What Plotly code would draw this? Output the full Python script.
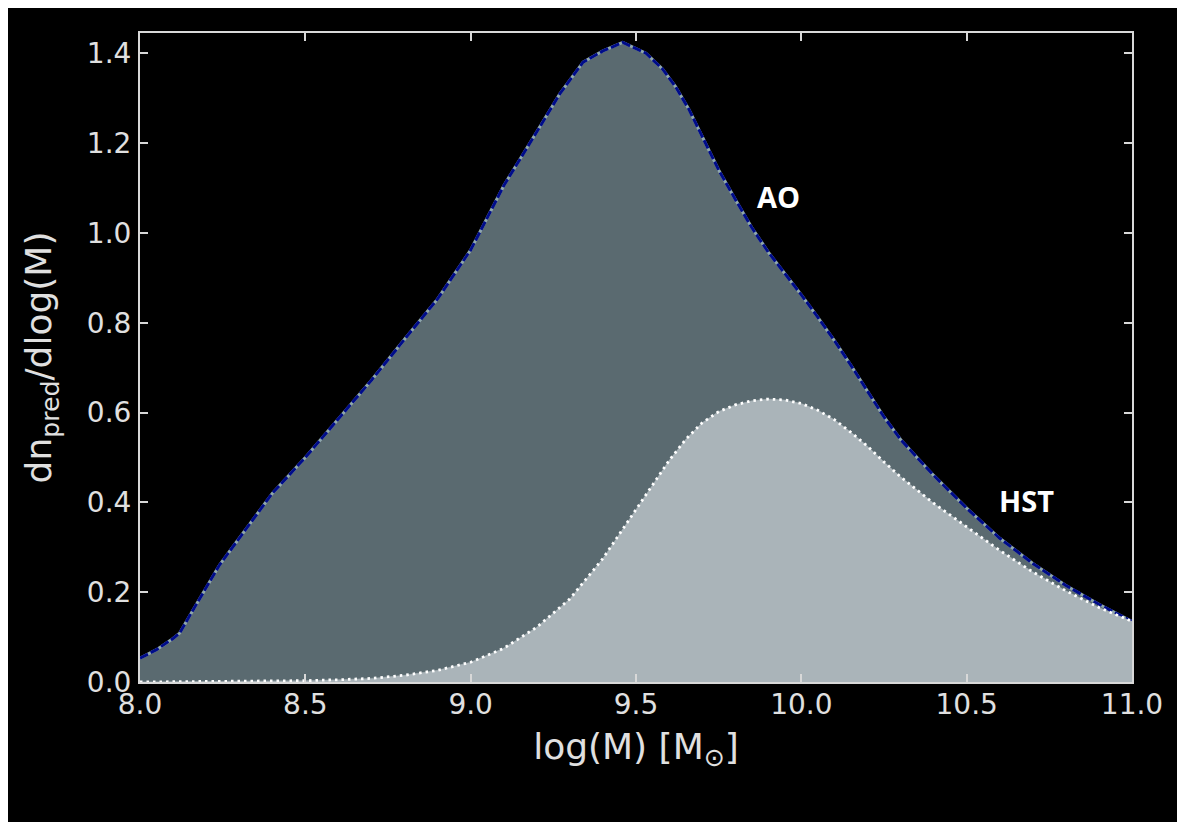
import plotly.graph_objects as go

# AO predicted mass function
ao_x = [8.00, 8.05, 8.10, 8.12, 8.16, 8.20, 8.24, 8.28, 8.33, 8.40, 8.50, 8.60, 8.70,
        8.80, 8.90, 9.00, 9.10, 9.20, 9.27, 9.34, 9.40, 9.46, 9.53, 9.58, 9.62, 9.66,
        9.70, 9.75, 9.80, 9.85, 9.90, 9.95, 10.00, 10.05, 10.10, 10.15, 10.20, 10.25,
        10.30, 10.40, 10.50, 10.60, 10.70, 10.80, 10.90, 11.00]
ao_y = [0.053, 0.072, 0.097, 0.109, 0.160, 0.210, 0.260, 0.300, 0.350, 0.420, 0.500,
        0.587, 0.672, 0.763, 0.853, 0.962, 1.105, 1.225, 1.310, 1.380, 1.405, 1.424,
        1.400, 1.365, 1.325, 1.275, 1.215, 1.140, 1.075, 1.012, 0.957, 0.910, 0.862,
        0.812, 0.760, 0.705, 0.647, 0.590, 0.540, 0.460, 0.387, 0.320, 0.264, 0.215,
        0.173, 0.135]

# HST predicted mass function
hst_x = [8.00, 8.30, 8.50, 8.60, 8.70, 8.80, 8.90, 9.00, 9.10, 9.20, 9.30, 9.40, 9.45,
         9.50, 9.55, 9.60, 9.65, 9.70, 9.75, 9.80, 9.85, 9.90, 9.95, 10.00, 10.05, 10.10,
         10.15, 10.20, 10.25, 10.30, 10.40, 10.50, 10.60, 10.70, 10.80, 10.90, 11.00]
hst_y = [0.000, 0.001, 0.003, 0.005, 0.008, 0.015, 0.026, 0.044, 0.075, 0.122, 0.185,
         0.275, 0.330, 0.385, 0.440, 0.493, 0.540, 0.577, 0.602, 0.617, 0.626, 0.630,
         0.628, 0.620, 0.605, 0.584, 0.556, 0.525, 0.490, 0.457, 0.398, 0.345, 0.293,
         0.245, 0.203, 0.166, 0.135]

labels = ["AO", "HST"]
label_x = [9.93, 10.68]
label_y = [1.08, 0.405]

fig = go.Figure()
fig.add_trace(go.Scatter(x=ao_x, y=ao_y, mode="lines", fill="tozeroy",
                         fillcolor="#5a6a70", line=dict(color="#8fa7ae", width=3),
                         hoverinfo="skip", showlegend=False))
fig.add_trace(go.Scatter(x=ao_x, y=ao_y, mode="lines",
                         line=dict(color="#000c8a", width=3, dash="9px,3px"),
                         showlegend=False))
fig.add_trace(go.Scatter(x=hst_x, y=hst_y, mode="lines", fill="tozeroy",
                         fillcolor="#aab4b9", line=dict(color="#aab4b9", width=0.5),
                         hoverinfo="skip", showlegend=False))
fig.add_trace(go.Scatter(x=hst_x, y=hst_y, mode="lines",
                         line=dict(color="#ffffff", width=2.8, dash="2.5px,4px"),
                         showlegend=False))

for t, lx, ly in zip(labels, label_x, label_y):
    fig.add_annotation(x=lx, y=ly, text="<b>" + t + "</b>", showarrow=False,
                       font=dict(family="Open Sans", size=29, color="white"))

axis_common = dict(showline=True, linewidth=2, linecolor="#d8d8d8", mirror="allticks",
                   ticks="inside", ticklen=8, tickwidth=1.5, tickcolor="#d8d8d8",
                   showgrid=False, zeroline=False,
                   tickfont=dict(family="DejaVu Sans", size=28, color="#e0e0e0"))

fig.update_xaxes(range=[8.0, 11.0], tickvals=[8.0, 8.5, 9.0, 9.5, 10.0, 10.5, 11.0],
                 tickformat=".1f", ticklabelstandoff=-4,
                 title=dict(text="log(M) [M<sub>⊙</sub>]",
                            font=dict(family="DejaVu Sans", size=36, color="#e0e0e0"),
                            standoff=14),
                 **axis_common)
fig.update_yaxes(range=[0, 1.445], tickvals=[0.0, 0.2, 0.4, 0.6, 0.8, 1.0, 1.2, 1.4],
                 tickformat=".1f", ticklabelstandoff=1,
                 title=dict(text="dn<sub>pred</sub>/dlog(M)",
                            font=dict(family="DejaVu Sans", size=36, color="#e0e0e0"),
                            standoff=24),
                 **axis_common)

fig.update_layout(width=1177, height=814, paper_bgcolor="black", plot_bgcolor="black",
                  margin=dict(l=132, r=53, t=25, b=140), showlegend=False)

fig.write_html("out.html")
